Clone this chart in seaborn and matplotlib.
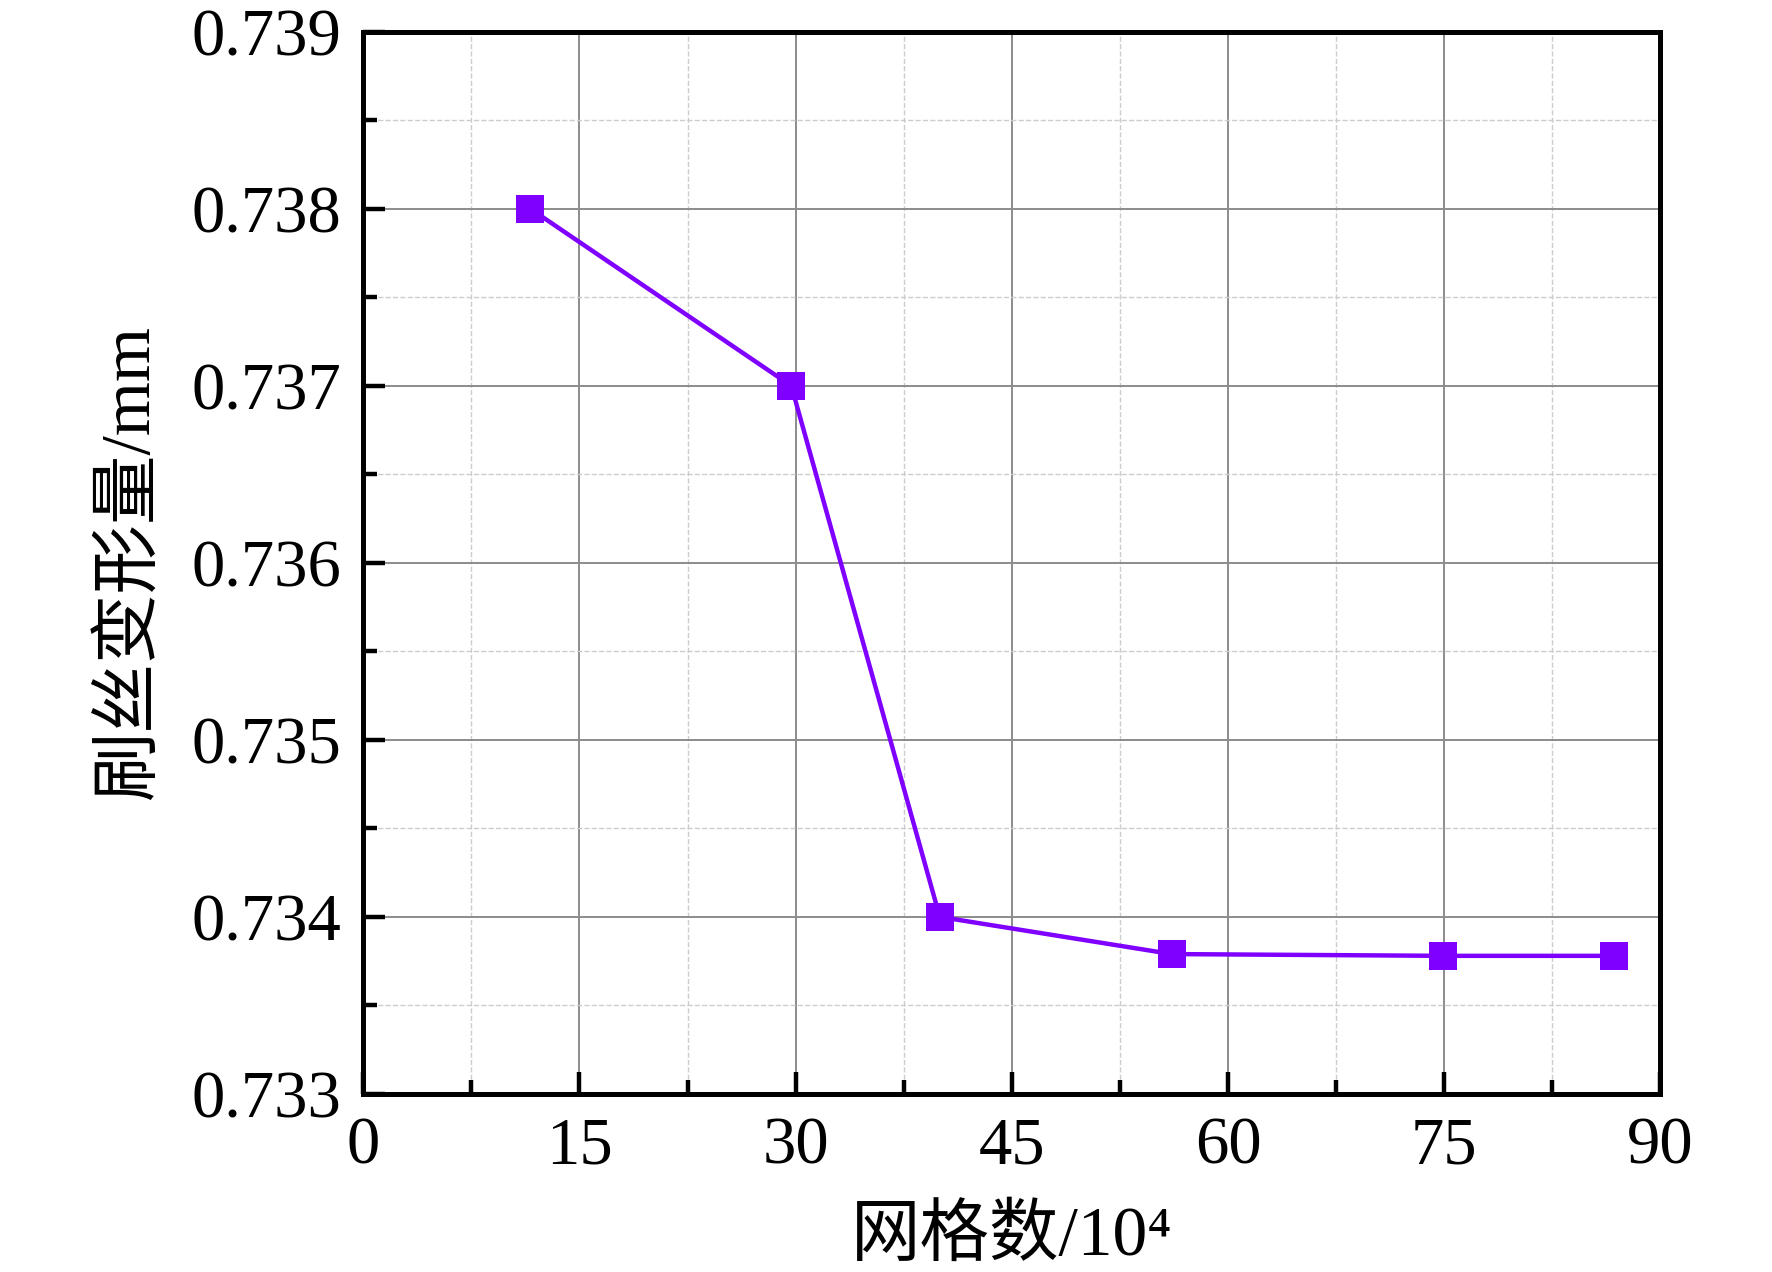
import pandas as pd
import seaborn as sns
import matplotlib.pyplot as plt
from matplotlib.ticker import MultipleLocator

# grid count (10^4) vs brush wire deformation (mm)
grid_counts = [11.6, 29.7, 40.0, 56.1, 74.9, 86.8]
deformation = [0.7380, 0.7370, 0.7340, 0.73379, 0.73378, 0.73378]

df = pd.DataFrame({'grid': grid_counts, 'deform': deformation})

sns.set_style('ticks')
plt.rcParams['font.family'] = ['Liberation Serif', 'Noto Sans CJK SC']
plt.rcParams['text.color'] = 'black'
plt.rcParams['axes.labelcolor'] = 'black'
plt.rcParams['xtick.color'] = 'black'
plt.rcParams['ytick.color'] = 'black'

fig = plt.figure(figsize=(8.86, 6.36), dpi=200)
ax = fig.add_axes([0.205, 0.140, 0.732, 0.835])

sns.lineplot(data=df, x='grid', y='deform', ax=ax, color='#8000ff',
             marker='s', markersize=10, markeredgewidth=0, linewidth=1.6)

ax.set_xlim(0, 90)
ax.set_ylim(0.733, 0.739)
ax.xaxis.set_major_locator(MultipleLocator(15))
ax.xaxis.set_minor_locator(MultipleLocator(7.5))
ax.yaxis.set_major_locator(MultipleLocator(0.001))
ax.yaxis.set_minor_locator(MultipleLocator(0.0005))
ax.yaxis.set_major_formatter(plt.FormatStrFormatter('%.3f'))

ax.grid(which='major', color='#8c8c8c', linewidth=0.7, linestyle='-')
ax.grid(which='minor', color='#cccccc', linewidth=0.5, linestyle='--')
ax.set_axisbelow(True)

for s in ax.spines.values():
    s.set_linewidth(1.8)
    s.set_color('black')
ax.tick_params(which='major', direction='in', length=8, width=1.6,
               labelsize=24, pad=8)
ax.tick_params(which='minor', direction='in', length=5, width=1.6)

ax.set_xlabel('网格数/10⁴', fontsize=25, labelpad=10)
ax.set_ylabel('刷丝变形量/mm', fontsize=25, labelpad=10)

fig.savefig('out.png', dpi=200)
